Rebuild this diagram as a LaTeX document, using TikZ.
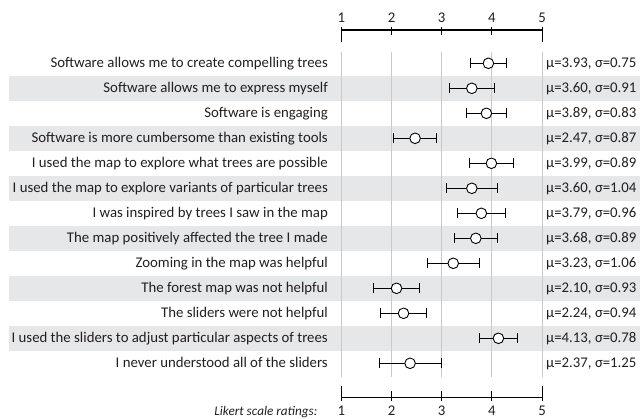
\documentclass[tikz,border=0pt]{standalone}
\usepackage{fontspec}
\setmainfont{Carlito}
\usetikzlibrary{arrows.meta}
\definecolor{band}{HTML}{E6E7E8}
\definecolor{gridgray}{HTML}{C9C9C9}
\definecolor{ink}{HTML}{231F20}
\tikzset{
  ratings/.style={x=50.2pt,y=-1pt,xshift=291.1pt},
  question/.style={anchor=base east,inner sep=0pt},
  stats/.style={anchor=base west,inner sep=0pt},
  num/.style={anchor=base,inner sep=0pt},
  errbar/.style={line width=0.8pt,{Bar[width=10pt,line width=0.8pt]}-{Bar[width=10pt,line width=0.8pt]}},
  meanpt/.style={circle,draw,fill=white,line width=0.9pt,minimum size=10.6pt,inner sep=0pt},
  gridline/.style={draw=gridgray,line width=0.9pt},
  axisline/.style={line width=1.1pt}
}
\begin{document}
\begin{tikzpicture}[x=1pt,y=-1pt,font=\fontsize{14.8}{16}\selectfont,text=ink]
\useasboundingbox (0,0) rectangle (640,418);
% shaded rows
\fill[band] (9,75.8) rectangle (640,100.8);
\fill[band] (9,125.8) rectangle (640,150.8);
\fill[band] (9,175.8) rectangle (640,200.8);
\fill[band] (9,225.8) rectangle (640,250.8);
\fill[band] (9,275.8) rectangle (640,300.8);
\fill[band] (9,325.8) rectangle (640,350.8);
% questions
\node[question] (q1) at (328,67.5) {Software allows me to create compelling trees};
\node[question] (q2) at (328,92.5) {Software allows me to express myself};
\node[question] (q3) at (328,117.5) {Software is engaging};
\node[question] (q4) at (328,142.5) {Software is more cumbersome than existing tools};
\node[question] (q5) at (328,167.5) {I used the map to explore what trees are possible};
\node[question] (q6) at (328,192.5) {I used the map to explore variants of particular trees};
\node[question] (q7) at (328,217.5) {I was inspired by trees I saw in the map};
\node[question] (q8) at (328,242.5) {The map positively affected the tree I made};
\node[question] (q9) at (328,267.5) {Zooming in the map was helpful};
\node[question] (q10) at (328,292.5) {The forest map was not helpful};
\node[question] (q11) at (328,317.5) {The sliders were not helpful};
\node[question] (q12) at (328,342.5) {I used the sliders to adjust particular aspects of trees};
\node[question] (q13) at (328,367.5) {I never understood all of the sliders};
% means and deviations
\node[stats] (s1) at (546,67.5) {μ=3.93, σ=0.75};
\node[stats] (s2) at (546,92.5) {μ=3.60, σ=0.91};
\node[stats] (s3) at (546,117.5) {μ=3.89, σ=0.83};
\node[stats] (s4) at (546,142.5) {μ=2.47, σ=0.87};
\node[stats] (s5) at (546,167.5) {μ=3.99, σ=0.89};
\node[stats] (s6) at (546,192.5) {μ=3.60, σ=1.04};
\node[stats] (s7) at (546,217.5) {μ=3.79, σ=0.96};
\node[stats] (s8) at (546,242.5) {μ=3.68, σ=0.89};
\node[stats] (s9) at (546,267.5) {μ=3.23, σ=1.06};
\node[stats] (s10) at (546,292.5) {μ=2.10, σ=0.93};
\node[stats] (s11) at (546,317.5) {μ=2.24, σ=0.94};
\node[stats] (s12) at (546,342.5) {μ=4.13, σ=0.78};
\node[stats] (s13) at (546,367.5) {μ=2.37, σ=1.25};
\node[anchor=base east,inner sep=0pt,font=\fontsize{13.2}{15}\selectfont\itshape] (likert) at (317.5,415) {Likert scale ratings:};
\begin{scope}[ratings]
% grid
\draw[gridline] (1,51.5) -- (1,377);
\draw[gridline] (2,51.5) -- (2,377);
\draw[gridline] (3,51.5) -- (3,377);
\draw[gridline] (4,51.5) -- (4,377);
\draw[gridline] (5,51.5) -- (5,377);
% top scale
\draw[axisline] (1,30) -- (5,30);
\draw[axisline] (1,27) -- (1,42.3);
\draw[axisline] (2,26.7) -- (2,35);
\draw[axisline] (3,26.7) -- (3,35);
\draw[axisline] (4,26.7) -- (4,35);
\draw[axisline] (5,27) -- (5,42.3);
\node[num] (t1) at (1,22.7) {1};
\node[num] (t2) at (2,22.7) {2};
\node[num] (t3) at (3,22.7) {3};
\node[num] (t4) at (4,22.7) {4};
\node[num] (t5) at (5,22.7) {5};
% bottom scale
\draw[axisline] (1,397.3) -- (5,397.3);
\draw[axisline] (1,385.7) -- (1,400.7);
\draw[axisline] (2,390.7) -- (2,401.3);
\draw[axisline] (3,390.7) -- (3,401.3);
\draw[axisline] (4,390.7) -- (4,401.3);
\draw[axisline] (5,385.7) -- (5,400.7);
\node[num] (b1) at (1,415) {1};
\node[num] (b2) at (2,415) {2};
\node[num] (b3) at (3,415) {3};
\node[num] (b4) at (4,415) {4};
\node[num] (b5) at (5,415) {5};
% error bars, mean +- sd/2
\draw[errbar] (3.555,63.3) -- (4.305,63.3);
\node[meanpt] (m1) at (3.93,63.3) {};
\draw[errbar] (3.145,88.3) -- (4.055,88.3);
\node[meanpt] (m2) at (3.60,88.3) {};
\draw[errbar] (3.475,113.3) -- (4.305,113.3);
\node[meanpt] (m3) at (3.89,113.3) {};
\draw[errbar] (2.035,138.3) -- (2.905,138.3);
\node[meanpt] (m4) at (2.47,138.3) {};
\draw[errbar] (3.545,163.3) -- (4.435,163.3);
\node[meanpt] (m5) at (3.99,163.3) {};
\draw[errbar] (3.08,188.3) -- (4.12,188.3);
\node[meanpt] (m6) at (3.60,188.3) {};
\draw[errbar] (3.31,213.3) -- (4.27,213.3);
\node[meanpt] (m7) at (3.79,213.3) {};
\draw[errbar] (3.235,238.3) -- (4.125,238.3);
\node[meanpt] (m8) at (3.68,238.3) {};
\draw[errbar] (2.70,263.3) -- (3.76,263.3);
\node[meanpt] (m9) at (3.23,263.3) {};
\draw[errbar] (1.635,288.3) -- (2.565,288.3);
\node[meanpt] (m10) at (2.10,288.3) {};
\draw[errbar] (1.77,313.3) -- (2.71,313.3);
\node[meanpt] (m11) at (2.24,313.3) {};
\draw[errbar] (3.74,338.3) -- (4.52,338.3);
\node[meanpt] (m12) at (4.13,338.3) {};
\draw[errbar] (1.745,363.3) -- (2.995,363.3);
\node[meanpt] (m13) at (2.37,363.3) {};
\end{scope}
\end{tikzpicture}
\end{document}
